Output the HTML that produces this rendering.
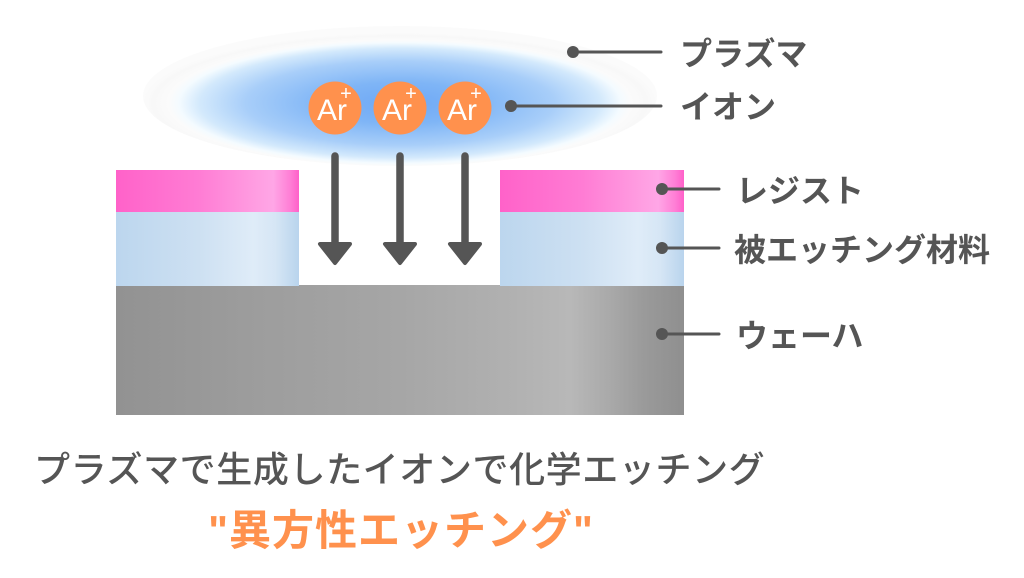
<!DOCTYPE html>
<html>
<head>
<meta charset="utf-8">
<style>
html,body{margin:0;padding:0;background:#fff;}
body{width:1024px;height:578px;overflow:hidden;}
svg{display:block;}
.jp{font-family:"Liberation Sans","Noto Sans CJK JP",sans-serif;}
</style>
</head>
<body>
<svg width="1024" height="578" viewBox="0 0 1024 578" xmlns="http://www.w3.org/2000/svg">
  <defs>
    <radialGradient id="plasma" cx="50%" cy="55%" r="50%" fx="50%" fy="55%">
      <stop offset="0" stop-color="#6ea8f5"/>
      <stop offset="0.3" stop-color="#7fb5f6"/>
      <stop offset="0.6" stop-color="#a8cef9"/>
      <stop offset="0.78" stop-color="#d3e9fc"/>
      <stop offset="0.86" stop-color="#f4fbff"/>
      <stop offset="0.9" stop-color="#fbfbfb"/>
      <stop offset="0.96" stop-color="#f8f8f8"/>
      <stop offset="1" stop-color="#fbfbfb"/>
    </radialGradient>
    <linearGradient id="pink" x1="0" y1="0" x2="1" y2="0">
      <stop offset="0" stop-color="#ff62c9"/>
      <stop offset="0.45" stop-color="#ff7cd4"/>
      <stop offset="0.78" stop-color="#ff9fe2"/>
      <stop offset="0.86" stop-color="#ffa6e6"/>
      <stop offset="0.95" stop-color="#ff7fd6"/>
      <stop offset="1" stop-color="#ff60c9"/>
    </linearGradient>
    <linearGradient id="blue" x1="0" y1="0" x2="1" y2="0">
      <stop offset="0" stop-color="#bcd6ee"/>
      <stop offset="0.45" stop-color="#cde0f2"/>
      <stop offset="0.75" stop-color="#dfecf8"/>
      <stop offset="0.87" stop-color="#d6e6f5"/>
      <stop offset="1" stop-color="#b9d4ed"/>
    </linearGradient>
    <linearGradient id="gray" x1="0" y1="0" x2="1" y2="0">
      <stop offset="0" stop-color="#929292"/>
      <stop offset="0.25" stop-color="#9d9d9d"/>
      <stop offset="0.5" stop-color="#a6a6a6"/>
      <stop offset="0.7" stop-color="#b1b1b1"/>
      <stop offset="0.8" stop-color="#b8b8b8"/>
      <stop offset="0.87" stop-color="#a9a9a9"/>
      <stop offset="0.93" stop-color="#9a9a9a"/>
      <stop offset="1" stop-color="#8f8f8f"/>
    </linearGradient>
  </defs>

  <!-- plasma -->
  <ellipse cx="400" cy="96" rx="257" ry="70" fill="url(#plasma)"/>

  <!-- layers -->
  <rect x="116" y="285" width="568" height="130" fill="url(#gray)"/>
  <rect x="116" y="212" width="183" height="74" fill="url(#blue)"/>
  <rect x="500" y="212" width="184" height="74" fill="url(#blue)"/>
  <rect x="116" y="170" width="183" height="42" fill="url(#pink)"/>
  <rect x="500" y="170" width="184" height="42" fill="url(#pink)"/>

  <!-- arrows -->
  <g fill="#555" stroke="#555" stroke-linejoin="round" stroke-linecap="round">
    <line x1="335" y1="156" x2="335" y2="248" stroke-width="7.5"/>
    <line x1="400" y1="156" x2="400" y2="248" stroke-width="7.5"/>
    <line x1="465" y1="156" x2="465" y2="248" stroke-width="7.5"/>
    <path d="M320 244 L350 244 L335 263 Z" stroke-width="4"/>
    <path d="M385 244 L415 244 L400 263 Z" stroke-width="4"/>
    <path d="M450 244 L480 244 L465 263 Z" stroke-width="4"/>
  </g>

  <!-- Ar ions -->
  <g>
    <circle cx="335" cy="108" r="26.5" fill="#ff914d"/>
    <circle cx="400" cy="108" r="26.5" fill="#ff914d"/>
    <circle cx="465" cy="108" r="26.5" fill="#ff914d"/>
  </g>
  <g fill="#fff" font-family="'Liberation Sans',sans-serif" text-anchor="middle">
    <text x="332" y="120" font-size="30">Ar</text>
    <text x="397" y="120" font-size="30">Ar</text>
    <text x="462" y="120" font-size="30">Ar</text>
    <text x="346" y="100" font-size="20">+</text>
    <text x="411" y="100" font-size="20">+</text>
    <text x="476" y="100" font-size="20">+</text>
  </g>

  <!-- leader lines -->
  <g stroke="#555" stroke-width="3" stroke-linecap="round">
    <line x1="573" y1="52" x2="661" y2="52"/>
    <line x1="511" y1="106" x2="661" y2="106"/>
    <line x1="662" y1="189" x2="719" y2="189"/>
    <line x1="662" y1="248" x2="719" y2="248"/>
    <line x1="662" y1="334" x2="719" y2="334"/>
  </g>
  <g fill="#555">
    <circle cx="573" cy="52" r="6"/>
    <circle cx="511" cy="106" r="6"/>
    <circle cx="662" cy="189" r="6"/>
    <circle cx="662" cy="248" r="6"/>
    <circle cx="662" cy="334" r="6"/>
  </g>

  <!-- labels -->
  <g class="jp" fill="#555" font-size="32" font-weight="bold">
    <text x="680" y="65">プラズマ</text>
    <text x="680" y="118">イオン</text>
    <text x="736" y="202">レジスト</text>
    <text x="734" y="261">被エッチング材料</text>
    <text x="736" y="347">ウェーハ</text>
  </g>

  <!-- bottom text -->
  <text class="jp" x="34" y="482" font-size="36" font-weight="500" fill="#555" letter-spacing="0.6">プラズマで生成したイオンで化学エッチング</text>
  <text class="jp" x="401" y="545" font-size="42" font-weight="bold" fill="#ff914d" text-anchor="middle" letter-spacing="1">"異方性エッチング"</text>
</svg>
</body>
</html>
